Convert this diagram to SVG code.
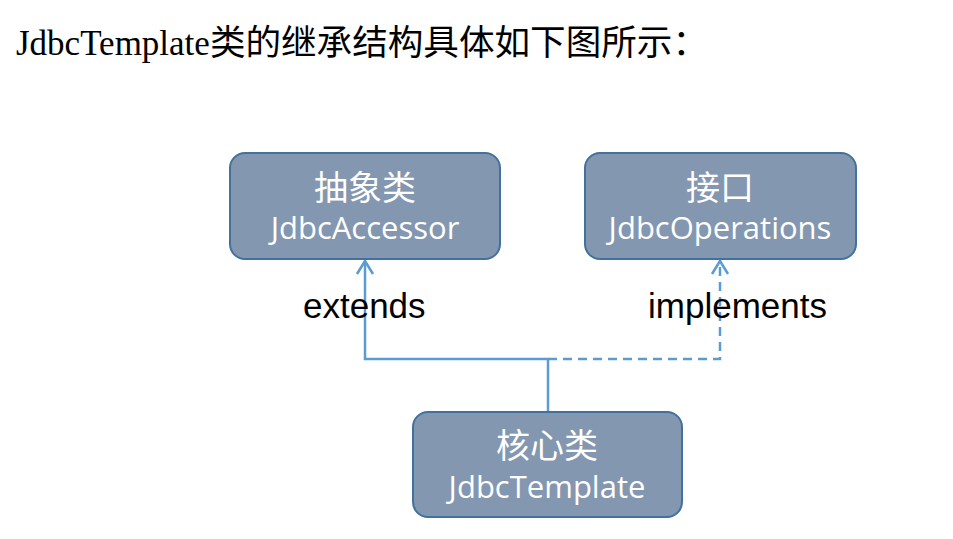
<svg xmlns="http://www.w3.org/2000/svg" width="953" height="539" viewBox="0 0 953 539">
<style>
.box{fill:#8497B0;stroke:#41719C;stroke-width:2}
.lbl{fill:#FFFFFF;font-family:"Open Sans","Noto Sans CJK SC",sans-serif;font-size:31px;text-anchor:middle}
.cn{font-family:"Noto Sans CJK SC",sans-serif;font-size:34px}
.edge{fill:none;stroke:#5B9BD5;stroke-width:2.5}
.dash{stroke-dasharray:9,6}
.elbl{font-family:"Liberation Sans",Arial,sans-serif;font-size:35px;fill:#000}
.title{font-family:"Liberation Serif","Noto Serif CJK SC","Noto Sans CJK SC",serif;font-size:35px;fill:#000}
</style>
<defs>
<marker id="arr" markerWidth="20" markerHeight="20" refX="10" refY="10" orient="auto" markerUnits="userSpaceOnUse" overflow="visible">
<path d="M-3,2 L10,10 L-3,18" fill="none" stroke="#5B9BD5" stroke-width="2.5"/>
</marker>
</defs>
<rect width="953" height="539" fill="#FFFFFF"/>
<text class="title" x="16" y="55">JdbcTemplate<tspan font-family="'Noto Sans CJK SC',sans-serif" font-size="35.6">类的继承结构具体如下图所示：</tspan></text>
<g id="connectors">
<path class="edge" d="M548,411 V359 H365 V261" marker-end="url(#arr)"/>
<path class="edge dash" d="M548,359 H720 V261" marker-end="url(#arr)"/>
<text class="elbl" x="303" y="318">extends</text>
<text class="elbl" x="648" y="318">implements</text>
</g>
<g id="abstract">
<rect class="box" x="230" y="153" width="270" height="106" rx="15"/>
<text class="lbl cn" x="365" y="200">抽象类</text>
<text class="lbl" x="365" y="239">JdbcAccessor</text>
</g>
<g id="interface">
<rect class="box" x="585" y="153" width="271" height="106" rx="15"/>
<text class="lbl cn" x="720" y="200">接口</text>
<text class="lbl" x="720" y="239">JdbcOperations</text>
</g>
<g id="core">
<rect class="box" x="413" y="412" width="269" height="105" rx="15"/>
<text class="lbl cn" x="547" y="458">核心类</text>
<text class="lbl" x="547" y="498">JdbcTemplate</text>
</g>
</svg>
